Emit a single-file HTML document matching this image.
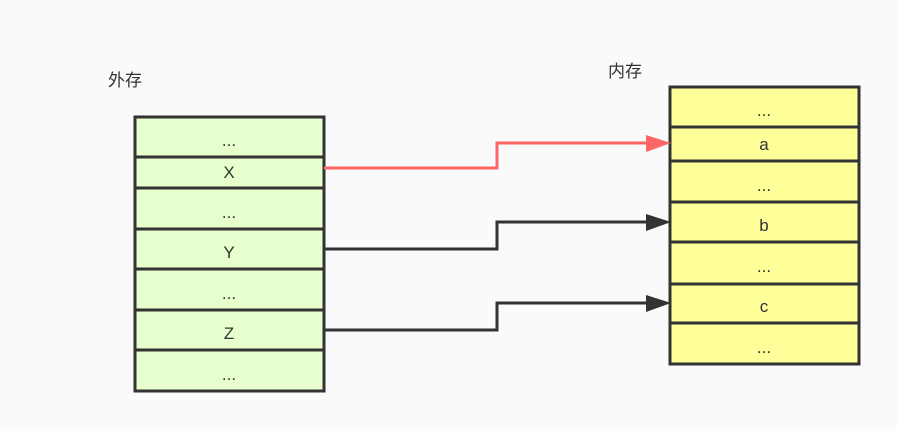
<!DOCTYPE html>
<html><head><meta charset="utf-8"><style>
html,body{margin:0;padding:0;background:#fafafa;}
svg{display:block;}
text{font-family:"Liberation Sans","Noto Sans CJK SC",sans-serif;fill:#333;}
</style></head><body>
<svg width="897" height="429" viewBox="0 0 897 429" xmlns="http://www.w3.org/2000/svg">
<rect width="897" height="429" fill="#fafafa"/>
<text x="108" y="86" font-size="17">外存</text>
<text x="608" y="77" font-size="17">内存</text>
<g stroke="#333" stroke-width="3" fill="#e6ffcc">
<rect x="135" y="117" width="189" height="40"/>
<rect x="135" y="157" width="189" height="31"/>
<rect x="135" y="188" width="189" height="41"/>
<rect x="135" y="229" width="189" height="40"/>
<rect x="135" y="269" width="189" height="41"/>
<rect x="135" y="310" width="189" height="40"/>
<rect x="135" y="350" width="189" height="41"/>
</g>
<g stroke="#333" stroke-width="3" fill="#ffff99">
<rect x="670" y="87" width="189" height="40"/>
<rect x="670" y="127" width="189" height="34"/>
<rect x="670" y="161" width="189" height="41"/>
<rect x="670" y="202" width="189" height="40"/>
<rect x="670" y="242" width="189" height="42"/>
<rect x="670" y="284" width="189" height="39"/>
<rect x="670" y="323" width="189" height="41"/>
</g>
<g font-size="17" text-anchor="middle">
<text x="229" y="146">...</text>
<text x="229" y="178">X</text>
<text x="229" y="218">...</text>
<text x="229" y="258">Y</text>
<text x="229" y="299">...</text>
<text x="229" y="339">Z</text>
<text x="229" y="380">...</text>
<text x="764" y="116">...</text>
<text x="764" y="150">a</text>
<text x="764" y="191">...</text>
<text x="764" y="231">b</text>
<text x="764" y="272">...</text>
<text x="764" y="312">c</text>
<text x="764" y="353">...</text>
</g>
<g fill="none" stroke-width="3">
<polyline points="324,168 497,168 497,143 650,143" stroke="#ff6666"/>
<polyline points="324,249 497,249 497,222 650,222" stroke="#333"/>
<polyline points="324,330 497,330 497,303 650,303" stroke="#333"/>
</g>
<polygon points="646,135 671,143 646,152" fill="#ff6666"/>
<polygon points="646,214 671,222 646,231" fill="#333"/>
<polygon points="646,295 671,303 646,312" fill="#333"/>
</svg>
</body></html>
